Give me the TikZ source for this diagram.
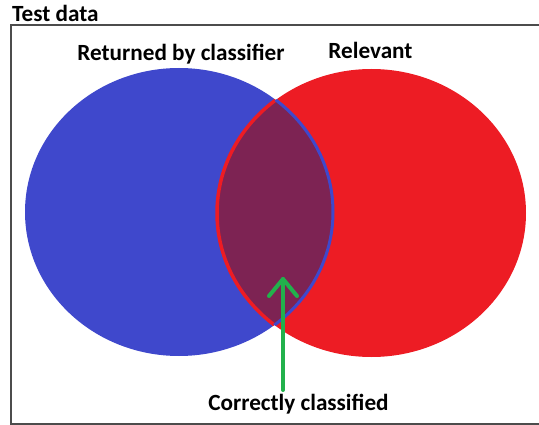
\documentclass[tikz,border=0pt]{standalone}
\usepackage{fontspec}
\setmainfont{Carlito}
\begin{document}
\begin{tikzpicture}[x=1pt,y=-1pt,
  lbl/.style={font=\bfseries\fontsize{23.2}{27}\selectfont, inner sep=0pt, anchor=base},
  frameline/.style={draw=black!70, line width=1.2pt}]
\definecolor{setblue}{HTML}{3F48CC}
\definecolor{setred}{HTML}{ED1C24}
\definecolor{lens}{HTML}{7D2353}
\definecolor{arrowgreen}{HTML}{22B14C}
\useasboundingbox (0,0) rectangle (539,425);

% frame of the data set, open on the right
\coordinate (ftl) at (11,25);
\coordinate (fbl) at (11,424);
\coordinate (ftr) at (539,25);
\coordinate (fbr) at (539,424);
\draw[frameline] (ftr) -- (ftl) -- (fbl) -- (fbr);
\node[lbl, anchor=base west] (title) at (12,22) {Test data};

% the two sets
\def\blueset{(179,212) ellipse [x radius=154, y radius=144]}
\def\redset{(371.5,213) ellipse [x radius=154.5, y radius=144]}
\fill[setblue] \blueset;
\fill[setred] \redset;

% overlap of both sets
\begin{scope}
  \clip \blueset;
  \fill[lens] \redset;
  \draw[setred, line width=3.5pt] \redset;
\end{scope}
\begin{scope}
  \clip \redset;
  \draw[setblue, line width=3pt] \blueset;
\end{scope}

% labels
\node[lbl] (returned) at (181,61) {Returned by classifier};
\node[lbl] (relevant) at (370.5,59) {Relevant};
\node[lbl] (correct) at (298.5,410) {Correctly classified};

% pointer into the overlap
\coordinate (tip) at (283,279);
\coordinate (tail) at (283,390);
\draw[arrowgreen, line width=4pt, line cap=round] (tail) -- (tip);
\draw[arrowgreen, line width=4pt, line cap=round, line join=round]
  (269,296) -- (tip) -- (297,296);
\end{tikzpicture}
\end{document}
